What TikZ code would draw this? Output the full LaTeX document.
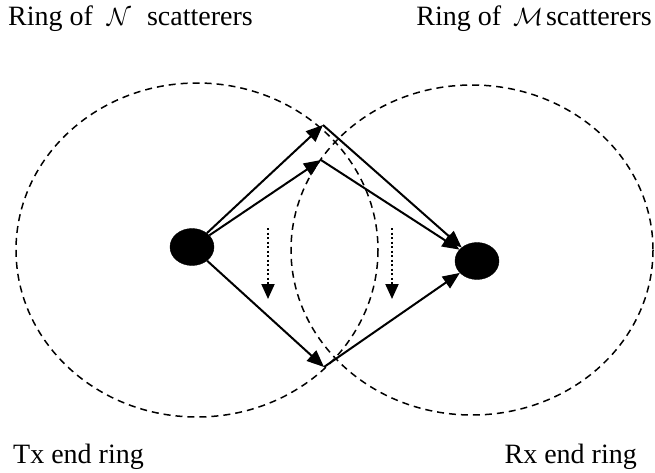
\documentclass[tikz,border=0pt]{standalone}
\usepackage{fontspec}
\setmainfont{Liberation Serif}
\usetikzlibrary{shapes.geometric,arrows.meta}
\begin{document}
\begin{tikzpicture}[x=1pt,y=-1pt,
  lbl/.style={font=\fontsize{28}{32}\selectfont, inner sep=0pt},
  ring/.style={draw, line width=1.5pt, dash pattern=on 7pt off 5pt},
  dot/.style={ellipse, fill=black, draw=black, minimum width=44pt, minimum height=37pt, inner sep=0pt},
  arr/.style={line width=2pt, -{Triangle[length=17pt,width=14pt]}},
  darr/.style={line width=2pt, dash pattern=on 2pt off 2.5pt, -{Triangle[length=15pt,width=13pt]}}]
\useasboundingbox (0,0) rectangle (655,472);
% rings
\draw[ring] (197,250) ellipse [x radius=181, y radius=167];
\draw[ring] (472,250) ellipse [x radius=181, y radius=165];
% Tx and Rx
\node[dot] (tx) at (192,247) {};
\node[dot] (rx) at (477,261) {};
% scatterer points
\coordinate (s1) at (323,125);
\coordinate (s2) at (321,160);
\coordinate (s3) at (324,367);
\draw[arr] (tx) -- (s1);
\draw[arr] (tx) -- (s2);
\draw[arr] (tx) -- (s3);
\draw[arr] (s1) -- (rx);
\draw[arr] (s2) -- (rx);
\draw[arr] (s3) -- (rx);
% dotted arrows
\coordinate (d1a) at (268,228);
\coordinate (d1b) at (268,299);
\coordinate (d2a) at (392,228);
\coordinate (d2b) at (392,299);
\draw[darr] (d1a) -- (d1b);
\draw[darr] (d2a) -- (d2b);
% labels
\node[lbl, anchor=west] (tN) at (8,19) {Ring of\hspace{14pt}$\mathcal{N}$\hspace{16pt}scatterers};
\node[lbl, anchor=east] (tM) at (652,19) {Ring of\hspace{12pt}$\mathcal{M}$\hspace{3pt}scatterers};
\node[lbl, anchor=west] (tTx) at (13,457) {Tx end ring};
\node[lbl, anchor=east] (tRx) at (637,457) {Rx end ring};
\end{tikzpicture}
\end{document}
